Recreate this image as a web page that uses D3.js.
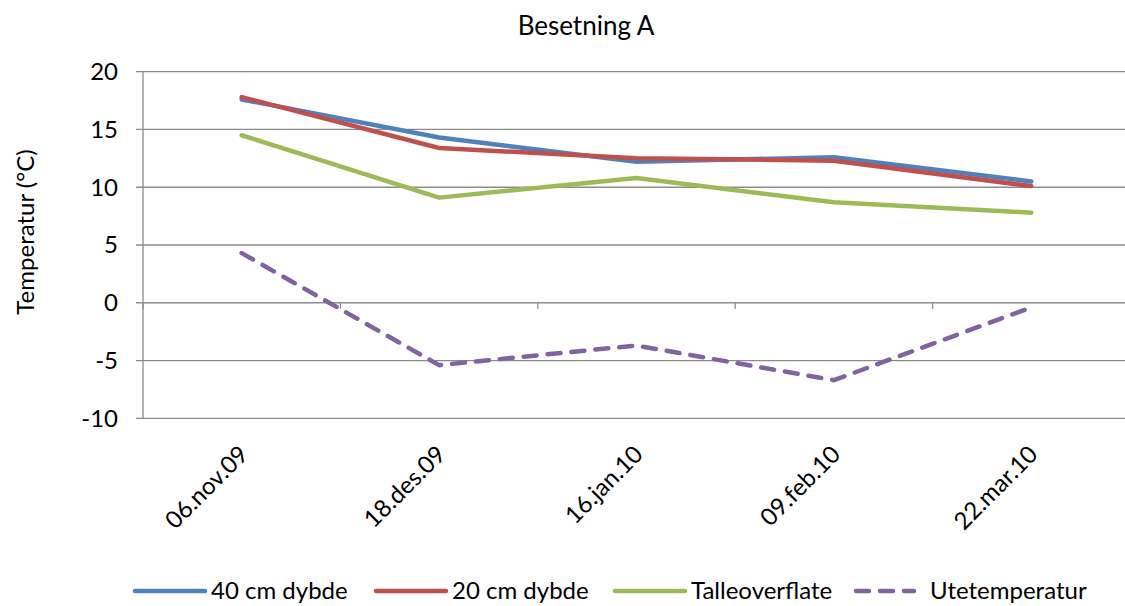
<!DOCTYPE html>
<html>
<head>
<meta charset="utf-8">
<script src="https://cdn.jsdelivr.net/npm/d3@7"></script>
<style>
  body { margin: 0; background: #fff; }
  svg { display: block; font-family: Lato, "Open Sans", sans-serif; }
</style>
</head>
<body>
<svg id="chart"></svg>
<script>
// data
var dates = ['06.nov.09', '18.des.09', '16.jan.10', '09.feb.10', '22.mar.10'];
var dybde40 = [17.6, 14.3, 12.2, 12.6, 10.5];
var dybde20 = [17.8, 13.4, 12.5, 12.3, 10.1];
var talleoverflate = [14.5, 9.1, 10.8, 8.7, 7.8];
var utetemperatur = [4.3, -5.4, -3.7, -6.7, -0.4];
var yTicks = [-10, -5, 0, 5, 10, 15, 20];

var seriesNames = ['40 cm dybde', '20 cm dybde', 'Talleoverflate', 'Utetemperatur'];
var seriesValues = [dybde40, dybde20, talleoverflate, utetemperatur];
var seriesColors = ['#4F81BD', '#C0504D', '#9BBB59', '#8064A2'];

var width = 1125, height = 606;
var plotLeft = 143, plotRight = 1130, plotTop = 71.7, plotBottom = 418.3;
var fontSize = 24;
var dash = '13,11';

var svg = d3.select('#chart')
    .attr('width', width)
    .attr('height', height);

var x = d3.scaleBand().domain(dates).range([plotLeft, plotRight]);
var y = d3.scaleLinear().domain([-10, 20]).range([plotBottom, plotTop]);

// gridlines
svg.append('g')
  .selectAll('line')
  .data(yTicks)
  .enter().append('line')
    .attr('x1', plotLeft - 7)
    .attr('x2', plotRight)
    .attr('y1', function(d){ return y(d); })
    .attr('y2', function(d){ return y(d); })
    .attr('stroke', '#8c8c8c')
    .attr('stroke-width', 1.3);

// y axis line
svg.append('line')
  .attr('x1', plotLeft).attr('x2', plotLeft)
  .attr('y1', plotTop).attr('y2', plotBottom)
  .attr('stroke', '#8c8c8c')
  .attr('stroke-width', 1.3);

// y tick labels
svg.append('g')
  .selectAll('text')
  .data(yTicks)
  .enter().append('text')
    .attr('x', plotLeft - 25)
    .attr('y', function(d){ return y(d); })
    .attr('dy', '0.35em')
    .attr('text-anchor', 'end')
    .attr('font-size', fontSize + 'px')
    .attr('fill', '#000')
    .text(function(d){ return d; });

// category ticks on the zero line
var boundaries = dates.map(function(d){ return x(d); }).concat([plotRight]);
svg.append('g')
  .selectAll('line')
  .data(boundaries)
  .enter().append('line')
    .attr('x1', function(d){ return d; })
    .attr('x2', function(d){ return d; })
    .attr('y1', y(0))
    .attr('y2', y(0) + 6)
    .attr('stroke', '#8c8c8c')
    .attr('stroke-width', 1.3);

// x labels, rotated
svg.append('g')
  .selectAll('text')
  .data(dates)
  .enter().append('text')
    .attr('transform', function(d){
      var cx = x(d) + x.bandwidth() / 2;
      return 'translate(' + (cx - 4) + ',' + 444 + ') rotate(-45)';
    })
    .attr('text-anchor', 'end')
    .attr('dy', '0.7em')
    .attr('font-size', fontSize + 'px')
    .attr('fill', '#000')
    .text(function(d){ return d; });

// lines
var line = d3.line()
  .x(function(d, i){ return x(dates[i]) + x.bandwidth() / 2; })
  .y(function(d){ return y(d); });

seriesValues.forEach(function(vals, k){
  svg.append('path')
    .datum(vals)
    .attr('d', line)
    .attr('fill', 'none')
    .attr('stroke', seriesColors[k])
    .attr('stroke-width', 4.5)
    .attr('stroke-linecap', 'round')
    .attr('stroke-linejoin', 'round')
    .attr('stroke-dasharray', k == 3 ? dash : null);
});

// title
svg.append('text')
  .attr('x', 586)
  .attr('y', 26)
  .attr('dy', '0.35em')
  .attr('text-anchor', 'middle')
  .attr('font-size', '26px')
  .attr('fill', '#000')
  .text('Besetning A');

// y axis title
svg.append('text')
  .attr('transform', 'translate(26,' + 232 + ') rotate(-90)')
  .attr('dy', '0.35em')
  .attr('text-anchor', 'middle')
  .attr('font-size', fontSize + 'px')
  .attr('fill', '#000')
  .text('Temperatur (°C)');

// legend
var legendX = [135, 376, 615, 856];
var legendY = 591;
seriesNames.forEach(function(name, k){
  var g = svg.append('g');
  g.append('line')
    .attr('x1', legendX[k])
    .attr('x2', legendX[k] + (k == 3 ? 58 : 70))
    .attr('y1', legendY).attr('y2', legendY)
    .attr('stroke', seriesColors[k])
    .attr('stroke-width', 4.5)
    .attr('stroke-linecap', 'round')
    .attr('stroke-dasharray', k == 3 ? dash : null);
  g.append('text')
    .attr('x', legendX[k] + (k == 3 ? 74 : 76))
    .attr('y', legendY)
    .attr('dy', '0.35em')
    .attr('font-size', fontSize + 'px')
    .attr('fill', '#000')
    .text(name);
});
</script>
</body>
</html>
